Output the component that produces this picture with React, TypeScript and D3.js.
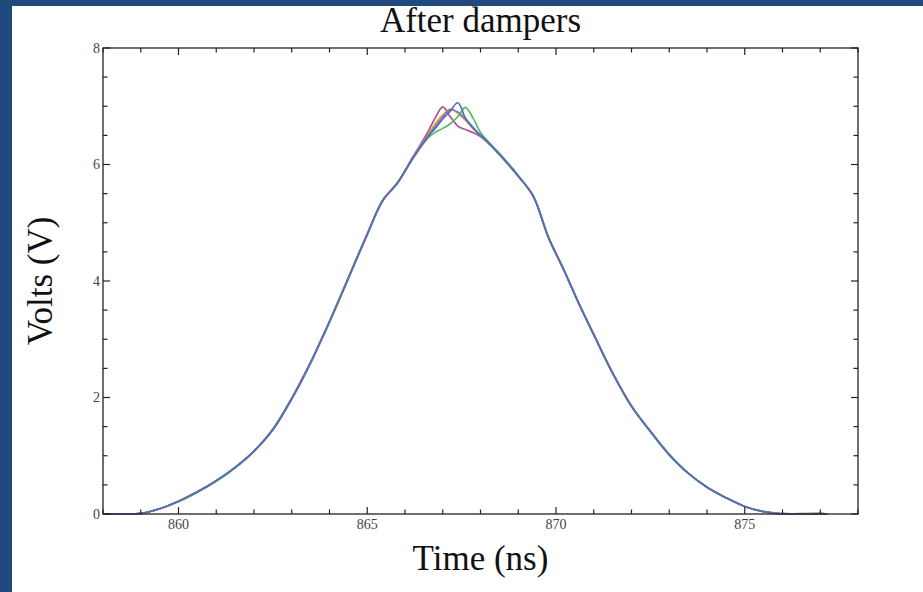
import * as d3 from 'd3';

// time samples (ns), shared by all traces
const times = [
  858, 858.5, 859, 859.5, 860, 860.5, 861, 861.5, 862, 862.5, 863, 863.5, 864, 864.5, 865,
  865.4, 865.8, 866.2, 866.6, 866.8, 867.0, 867.2, 867.4, 867.6, 867.8, 868.0, 868.2,
  868.6, 869.0, 869.4, 869.8, 870.2, 870.6, 871.0, 871.5, 872, 872.5, 873, 873.5, 874,
  874.5, 875, 875.5, 876, 876.5, 877, 877.2,
];

// voltages (V) for each of the five traces
const traceMagenta = [
  0, 0, 0.01, 0.09, 0.22, 0.38, 0.57, 0.8, 1.08, 1.46, 1.99, 2.61, 3.31, 4.06, 4.81,
  5.38, 5.69, 6.12, 6.55, 6.8, 6.99, 6.82, 6.66, 6.6, 6.55, 6.48, 6.37,
  6.12, 5.8, 5.45, 4.74, 4.2, 3.62, 3.08, 2.42, 1.85, 1.42, 1.02, 0.7, 0.46,
  0.28, 0.13, 0.04, 0.01, 0, 0.01, 0,
];
const traceOrange = [
  0, 0, 0.01, 0.09, 0.22, 0.38, 0.57, 0.8, 1.08, 1.45, 1.98, 2.6, 3.3, 4.05, 4.8,
  5.37, 5.68, 6.1, 6.5, 6.7, 6.85, 6.95, 6.88, 6.76, 6.62, 6.5, 6.38,
  6.11, 5.8, 5.46, 4.76, 4.21, 3.63, 3.09, 2.43, 1.86, 1.42, 1.02, 0.7, 0.46,
  0.28, 0.13, 0.04, 0, 0.01, 0, 0,
];
const traceGreen = [
  0, 0, 0.01, 0.09, 0.21, 0.37, 0.56, 0.79, 1.07, 1.44, 1.97, 2.59, 3.29, 4.04, 4.8,
  5.37, 5.69, 6.1, 6.45, 6.55, 6.62, 6.7, 6.82, 6.98, 6.8, 6.55, 6.4,
  6.12, 5.81, 5.46, 4.75, 4.2, 3.62, 3.08, 2.42, 1.85, 1.41, 1.01, 0.7, 0.46,
  0.28, 0.13, 0.04, 0, 0, 0.01, 0,
];
const tracePurple = [
  0, 0, 0.01, 0.09, 0.22, 0.38, 0.57, 0.8, 1.08, 1.45, 1.98, 2.6, 3.3, 4.05, 4.8,
  5.37, 5.68, 6.1, 6.48, 6.65, 6.82, 6.94, 6.9, 6.78, 6.62, 6.5, 6.38,
  6.1, 5.8, 5.45, 4.75, 4.2, 3.62, 3.08, 2.42, 1.85, 1.42, 1.02, 0.7, 0.46,
  0.28, 0.13, 0.04, 0, 0, 0, 0,
];
const traceBlue = [
  0, 0, 0.01, 0.09, 0.22, 0.38, 0.57, 0.8, 1.08, 1.45, 1.98, 2.6, 3.3, 4.05, 4.8,
  5.37, 5.68, 6.1, 6.47, 6.62, 6.78, 6.92, 7.06, 6.8, 6.64, 6.5, 6.38,
  6.1, 5.8, 5.45, 4.75, 4.2, 3.62, 3.08, 2.42, 1.85, 1.42, 1.02, 0.7, 0.46,
  0.28, 0.13, 0.04, 0, 0, 0, 0,
];

const traces = [traceMagenta, traceOrange, traceGreen, tracePurple, traceBlue];
const traceColors = ['#b0508f', '#d9a13a', '#5cb866', '#8778b3', '#5270b8'];

const xMajorTicks = [860, 865, 870, 875];
const yMajorTicks = [0, 2, 4, 6, 8];

const W = 923;
const H = 592;
const margin = { top: 48, right: 65, bottom: 78, left: 103 };
const serif = '"Liberation Serif", "Times New Roman", serif';

export default function App() {
  const width = W - margin.left - margin.right;
  const height = H - margin.top - margin.bottom;

  const x = d3.scaleLinear().domain([858, 878]).range([0, width]);
  const y = d3.scaleLinear().domain([0, 8]).range([height, 0]);

  const line = d3.line<number>()
    .x((_, i) => x(times[i]))
    .y(d => y(d))
    .curve(d3.curveCatmullRom.alpha(0.5));

  const xMinor = d3.range(858, 878.01, 1).filter(t => !xMajorTicks.includes(t));
  const yMinor = d3.range(0, 8.01, 0.5).filter(v => !yMajorTicks.includes(v));
  const major = 7;
  const minor = 4.5;
  const tickStroke = '#222';

  return (
    <div style={{ position: 'absolute', left: 0, top: 0 }}>
      <svg width={W} height={H} style={{ display: 'block' }}>
        <rect x={0} y={0} width={W} height={H} fill="#1f4a7d" />
        <rect x={12} y={6} width={W - 12} height={H - 6} fill="#ffffff" />

        <text x={margin.left + width / 2} y={32} textAnchor="middle"
          fontFamily={serif} fontSize={35} fill="#111">After dampers</text>

        <g transform={`translate(${margin.left},${margin.top})`}>
          {/* traces */}
          {traces.map((tr, i) => (
            <path key={i} d={line(tr) || ''} fill="none" stroke={traceColors[i]}
              strokeWidth={1.7} strokeLinejoin="round" />
          ))}

          {/* frame */}
          <rect x={0} y={0} width={width} height={height} fill="none" stroke={tickStroke} strokeWidth={1.3} />

          {/* x ticks bottom & top */}
          {xMajorTicks.map(t => (
            <g key={'xM' + t}>
              <line x1={x(t)} x2={x(t)} y1={height} y2={height - major} stroke={tickStroke} strokeWidth={1.2} />
              <line x1={x(t)} x2={x(t)} y1={0} y2={major} stroke={tickStroke} strokeWidth={1.2} />
              <text x={x(t)} y={height + 15} textAnchor="middle" fontFamily={serif}
                fontSize={14} fill="#444">{t}</text>
            </g>
          ))}
          {xMinor.map(t => (
            <g key={'xm' + t}>
              <line x1={x(t)} x2={x(t)} y1={height} y2={height - minor} stroke={tickStroke} strokeWidth={1.2} />
              <line x1={x(t)} x2={x(t)} y1={0} y2={minor} stroke={tickStroke} strokeWidth={1.2} />
            </g>
          ))}

          {/* y ticks left & right */}
          {yMajorTicks.map(v => (
            <g key={'yM' + v}>
              <line x1={0} x2={major} y1={y(v)} y2={y(v)} stroke={tickStroke} strokeWidth={1.2} />
              <line x1={width} x2={width - major} y1={y(v)} y2={y(v)} stroke={tickStroke} strokeWidth={1.2} />
              <text x={-3} y={y(v)} dy="0.35em" textAnchor="end" fontFamily={serif}
                fontSize={14} fill="#444">{v}</text>
            </g>
          ))}
          {yMinor.map(v => (
            <g key={'ym' + v}>
              <line x1={0} x2={minor} y1={y(v)} y2={y(v)} stroke={tickStroke} strokeWidth={1.2} />
              <line x1={width} x2={width - minor} y1={y(v)} y2={y(v)} stroke={tickStroke} strokeWidth={1.2} />
            </g>
          ))}
        </g>

        <text x={margin.left + width / 2} y={570} textAnchor="middle"
          fontFamily={serif} fontSize={35} fill="#111">Time (ns)</text>
        <text transform={`translate(52,${margin.top + height / 2}) rotate(-90)`} textAnchor="middle"
          fontFamily={serif} fontSize={35} fill="#111">Volts (V)</text>
      </svg>
    </div>
  );
}
